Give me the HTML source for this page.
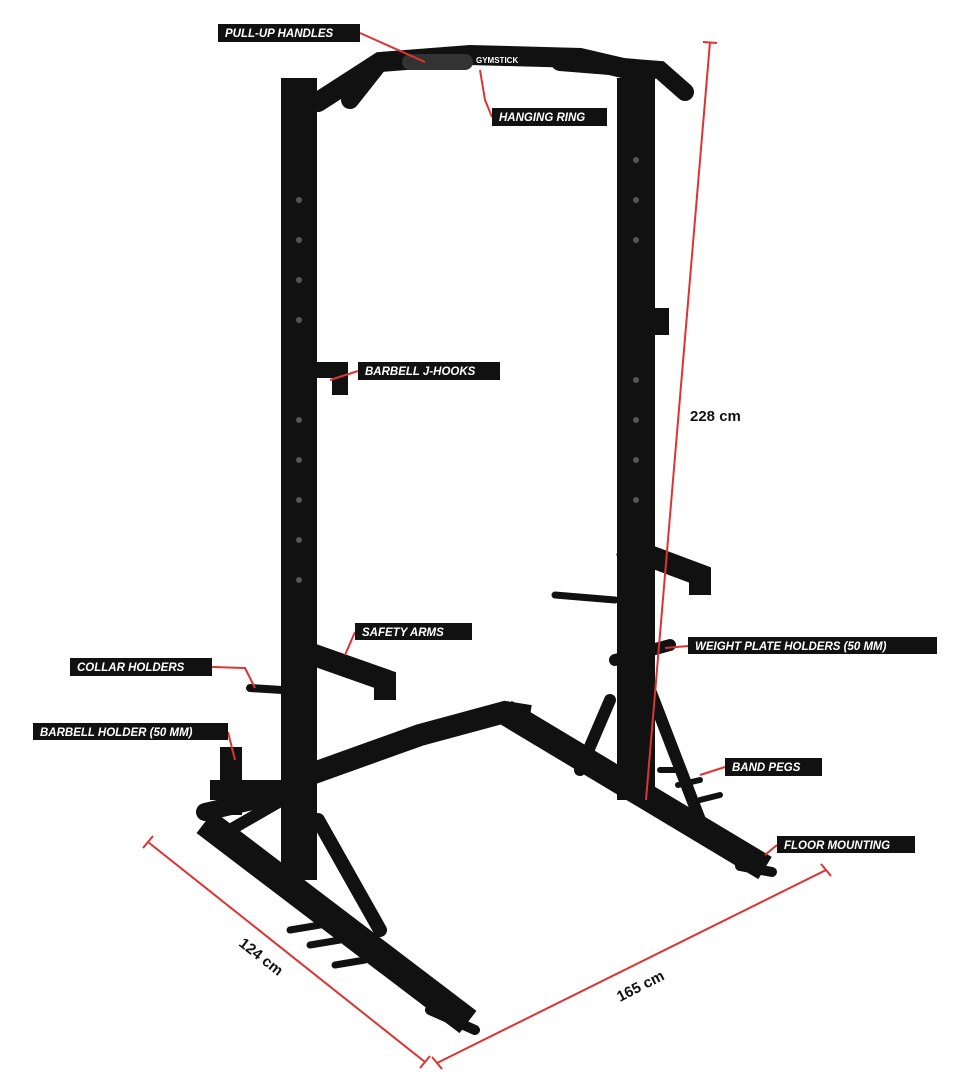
<!DOCTYPE html>
<html><head><meta charset="utf-8"><style>
html,body{margin:0;padding:0;background:#fff;}
svg{display:block}
.lbl{font-family:"Liberation Sans",sans-serif;font-weight:bold;font-style:italic;font-size:11.5px;fill:#fff}
.dim{font-family:"Liberation Sans",sans-serif;font-weight:bold;font-size:15px;fill:#111}
</style></head><body>
<svg width="970" height="1087" viewBox="0 0 970 1087" xmlns="http://www.w3.org/2000/svg">
<rect width="970" height="1087" fill="#fff"/>
<g stroke="#111" stroke-linecap="round" fill="none">
<!-- base rear bar -->
<path d="M300 778 L420 735 L505 712 L530 716" stroke-width="22" stroke-linecap="butt"/>
<!-- right base leg -->
<path d="M505 712 L765 868" stroke-width="26" stroke-linecap="butt"/>
<!-- left base leg -->
<path d="M205 822 L468 1022" stroke-width="28" stroke-linecap="butt"/>
<!-- left rear short foot -->
<path d="M210 790 L300 790" stroke-width="20" stroke-linecap="butt"/>
<!-- uprights -->
<path d="M299 78 L299 880" stroke-width="36" stroke-linecap="butt"/>
<path d="M636 78 L636 800" stroke-width="38" stroke-linecap="butt"/>
<!-- braces -->
<path d="M318 820 L380 930" stroke-width="14"/>
<path d="M610 700 L580 770" stroke-width="12"/>
<path d="M650 690 L700 820" stroke-width="12"/>
<path d="M230 830 L282 800" stroke-width="12"/>
<!-- top bar -->
<path d="M318 102 L380 62 L470 55 L580 58 L640 72" stroke-width="20"/>
<path d="M380 62 L350 100" stroke-width="18"/>
<path d="M560 62 L660 70 L685 92" stroke-width="18"/>
<path d="M410 62 L465 62" stroke-width="16" stroke="#333"/>
<!-- j-hooks -->
<path d="M283 370 L340 370 L340 395" stroke-width="16" stroke-linecap="butt"/>
<path d="M620 315 L662 315 L662 335" stroke-width="14" stroke-linecap="butt"/>
<!-- safety arms -->
<path d="M300 650 L385 680 L385 700" stroke-width="22" stroke-linecap="butt"/>
<path d="M620 545 L700 575 L700 595" stroke-width="22" stroke-linecap="butt"/>
<!-- weight holders -->
<path d="M555 595 L615 600" stroke-width="7"/>
<path d="M615 660 L670 645" stroke-width="12"/>
<!-- collar holder -->
<path d="M250 688 L282 690" stroke-width="8"/>
<!-- barbell holder -->
<rect x="220" y="747" width="22" height="68" fill="#111" stroke="none"/>
<path d="M205 812 L300 790" stroke-width="18"/>
<!-- band pegs -->
<path d="M660 770 L680 770 M678 785 L700 780 M700 800 L720 795" stroke-width="6"/>
<path d="M290 930 L320 925 M310 945 L340 940 M335 965 L365 960" stroke-width="7"/>
<!-- feet -->
<path d="M430 1010 L475 1030" stroke-width="10"/>
<path d="M740 866 L772 872" stroke-width="10"/>
</g>
<!-- holes -->
<g fill="#555">
<circle cx="299" cy="200" r="3"/><circle cx="299" cy="240" r="3"/><circle cx="299" cy="280" r="3"/><circle cx="299" cy="320" r="3"/><circle cx="299" cy="420" r="3"/><circle cx="299" cy="460" r="3"/><circle cx="299" cy="500" r="3"/><circle cx="299" cy="540" r="3"/><circle cx="299" cy="580" r="3"/>
<circle cx="636" cy="160" r="3"/><circle cx="636" cy="200" r="3"/><circle cx="636" cy="240" r="3"/><circle cx="636" cy="380" r="3"/><circle cx="636" cy="420" r="3"/><circle cx="636" cy="460" r="3"/><circle cx="636" cy="500" r="3"/>
</g>
<!-- red dims -->
<g stroke="#d33" stroke-width="2" fill="none">
<path d="M710 42 L646 800"/><path d="M703 42 L717 43"/>
<path d="M148 842 L425 1062"/><path d="M143 848 L153 836"/><path d="M420 1068 L430 1056"/>
<path d="M437 1063 L826 870"/><path d="M432 1057 L442 1069"/><path d="M821 864 L831 876"/>
<path d="M360 33 L425 62 M480 70 L485 100 L492 117 M358 371 L330 380 M355 632 L345 655 M212 667 L245 668 L255 688 M228 732 L235 760 M688 646 L665 648 M725 767 L700 775 M777 845 L765 855"/>
</g>
<text class="dim" x="690" y="421">228 cm</text>
<text class="dim" transform="translate(238,945) rotate(38)">124 cm</text>
<text class="dim" transform="translate(620,1002) rotate(-27)">165 cm</text>
<!-- labels -->
<g>
<rect x="218" y="24" width="142" height="18" fill="#111"/><text class="lbl" x="225" y="37">PULL-UP HANDLES</text>
<rect x="492" y="108" width="115" height="18" fill="#111"/><text class="lbl" x="499" y="121">HANGING RING</text>
<rect x="358" y="362" width="142" height="18" fill="#111"/><text class="lbl" x="365" y="375">BARBELL J-HOOKS</text>
<rect x="355" y="623" width="117" height="17" fill="#111"/><text class="lbl" x="362" y="636">SAFETY ARMS</text>
<rect x="70" y="658" width="142" height="18" fill="#111"/><text class="lbl" x="77" y="671">COLLAR HOLDERS</text>
<rect x="33" y="723" width="195" height="17" fill="#111"/><text class="lbl" x="40" y="736">BARBELL HOLDER (50 MM)</text>
<rect x="688" y="637" width="249" height="17" fill="#111"/><text class="lbl" x="695" y="650">WEIGHT PLATE HOLDERS (50 MM)</text>
<rect x="725" y="758" width="97" height="18" fill="#111"/><text class="lbl" x="732" y="771">BAND PEGS</text>
<rect x="777" y="836" width="138" height="17" fill="#111"/><text class="lbl" x="784" y="849">FLOOR MOUNTING</text>
</g>
<text x="476" y="63" font-family="Liberation Sans,sans-serif" font-size="8" font-weight="bold" fill="#fff">GYMSTICK</text>
</svg>
</body></html>
